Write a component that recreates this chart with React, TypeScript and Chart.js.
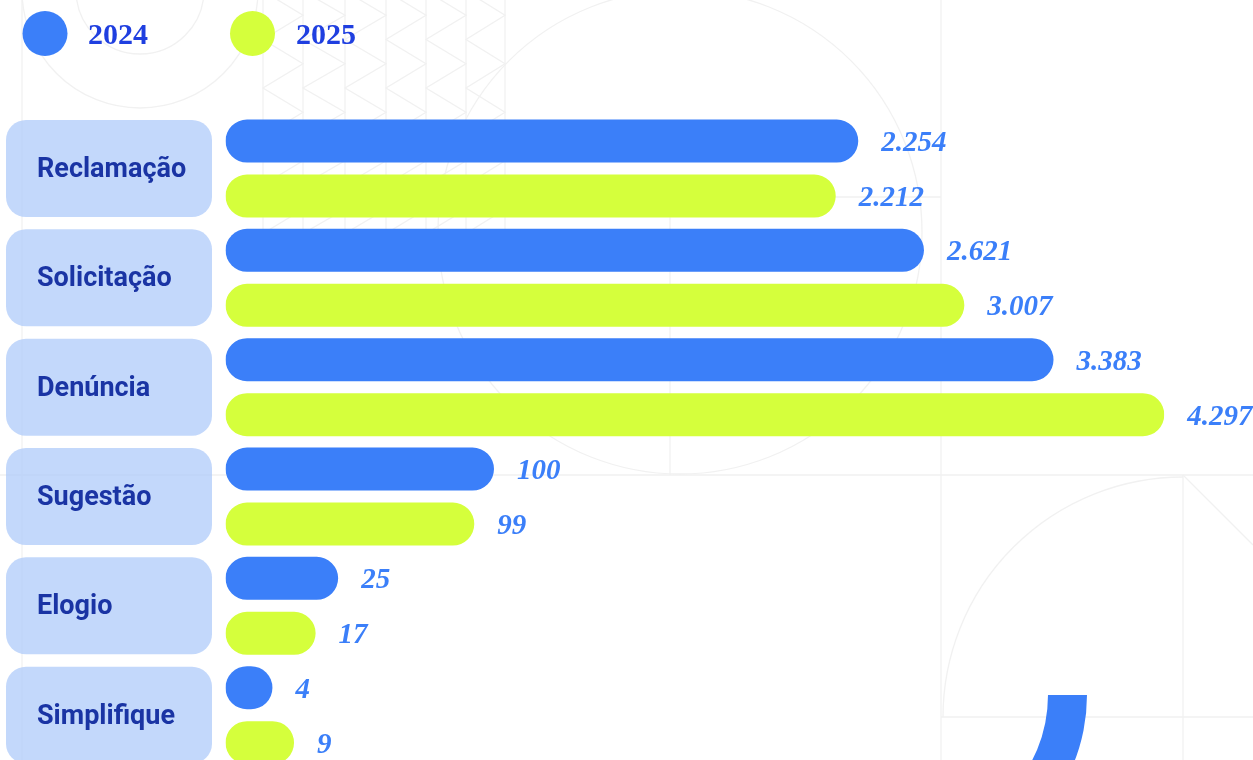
import React, { useEffect, useRef } from "react";
import { Chart, registerables } from "chart.js";

Chart.register(...registerables);

// ---- data ----
const categories = ["Reclamação", "Solicitação", "Denúncia", "Sugestão", "Elogio", "Simplifique"];
const seriesNames = ["2024", "2025"];
const values2024 = [2254, 2621, 3383, 100, 25, 4];
const values2025 = [2212, 3007, 4297, 99, 17, 9];
// bar lengths as drawn in the infographic (not proportional to the values), in % of the longest bar
const barLength2024 = [67.4, 74.4, 88.2, 28.6, 12.0, 5.0];
const barLength2025 = [65.0, 78.7, 100, 26.5, 9.6, 7.3];
const seriesColors = ["#3b7ff9", "#d5ff3c"];

const valueLabels = [values2024, values2025];

const fmt = (v: number) => String(v).replace(/\B(?=(\d{3})+(?!\d))/g, ".");

const W = 1253;
const H = 780;

function roundRect(ctx: CanvasRenderingContext2D, x: number, y: number, w: number, h: number, r: number) {
  ctx.beginPath();
  ctx.moveTo(x + r, y);
  ctx.lineTo(x + w - r, y);
  ctx.arcTo(x + w, y, x + w, y + r, r);
  ctx.lineTo(x + w, y + h - r);
  ctx.arcTo(x + w, y + h, x + w - r, y + h, r);
  ctx.lineTo(x + r, y + h);
  ctx.arcTo(x, y + h, x, y + h - r, r);
  ctx.lineTo(x, y + r);
  ctx.arcTo(x, y, x + r, y, r);
  ctx.closePath();
}

const backgroundPlugin = {
  id: "bgPattern",
  beforeDraw(chart: any) {
    const ctx: CanvasRenderingContext2D = chart.ctx;
    ctx.save();
    ctx.fillStyle = "#ffffff";
    ctx.fillRect(0, 0, chart.width, chart.height);
    ctx.strokeStyle = "#f1f1f1";
    ctx.lineWidth = 1.3;
    const line = (x1: number, y1: number, x2: number, y2: number) => {
      ctx.beginPath();
      ctx.moveTo(x1, y1);
      ctx.lineTo(x2, y2);
      ctx.stroke();
    };
    // zigzag block (top)
    const cols = [263, 303, 345, 386, 426, 466, 505];
    cols.forEach((x) => line(x, 0, x, 235));
    for (let i = 0; i < cols.length - 1; i++) {
      const xl = cols[i];
      const xr = cols[i + 1];
      ctx.beginPath();
      let y = -9;
      let right = false;
      ctx.moveTo(xl, y);
      while (y < 235) {
        y += 24.25;
        right = !right;
        ctx.lineTo(right ? xr : xl, y);
      }
      ctx.stroke();
    }
    // left structure
    line(22, 0, 22, chart.height);
    ctx.beginPath();
    ctx.arc(140, -10, 64, 0, Math.PI);
    ctx.stroke();
    ctx.beginPath();
    ctx.arc(140, -10, 118, 0, Math.PI);
    ctx.stroke();
    // middle / right grid
    line(941, 0, 941, chart.height);
    line(0, 475, chart.width, 475);
    line(670, 197, 941, 197);
    line(670, 197, 670, 475);
    ctx.beginPath();
    ctx.arc(680, 232, 242, 0, Math.PI * 2);
    ctx.stroke();
    line(941, 717, chart.width, 717);
    line(1183, 475, 1183, chart.height);
    line(1183, 475, 1253, 545);
    ctx.beginPath();
    ctx.arc(1183, 717, 240, Math.PI, Math.PI * 1.5);
    ctx.stroke();
    ctx.restore();
  },
};

const boxesPlugin = {
  id: "categoryBoxes",
  beforeDatasetsDraw(chart: any) {
    const ctx: CanvasRenderingContext2D = chart.ctx;
    const yScale = chart.scales.y;
    ctx.save();
    // decorative ring segment (bottom right)
    ctx.fillStyle = seriesColors[0];
    ctx.beginPath();
    ctx.arc(905, 695, 182, 0, Math.PI / 2);
    ctx.arc(905, 695, 143, Math.PI / 2, 0, true);
    ctx.closePath();
    ctx.fill();

    categories.forEach((cat, i) => {
      const yc = yScale.getPixelForValue(i);
      ctx.fillStyle = "rgba(172, 201, 250, 0.72)";
      roundRect(ctx, 6, yc - 48.5, 206, 97, 20);
      ctx.fill();
      ctx.fillStyle = "#1a34a4";
      ctx.font = 'bold 27px Roboto';
      ctx.textAlign = "left";
      ctx.textBaseline = "alphabetic";
      ctx.fillText(cat, 37, yc + 8.5);
    });
    ctx.restore();
  },
};

const labelsPlugin = {
  id: "valueLabels",
  afterDatasetsDraw(chart: any) {
    const ctx: CanvasRenderingContext2D = chart.ctx;
    ctx.save();
    ctx.fillStyle = seriesColors[0];
    ctx.font = 'italic bold 29px "Liberation Serif"';
    ctx.textAlign = "left";
    ctx.textBaseline = "alphabetic";
    chart.data.datasets.forEach((_: any, di: number) => {
      const meta = chart.getDatasetMeta(di);
      meta.data.forEach((bar: any, i: number) => {
        ctx.fillText(fmt(valueLabels[di][i]), bar.x + 23, bar.y + 10);
      });
    });
    ctx.restore();
  },
};

const legendPlugin = {
  id: "customLegend",
  afterDraw(chart: any) {
    const ctx: CanvasRenderingContext2D = chart.ctx;
    ctx.save();
    const items = [
      { cx: 45, tx: 88 },
      { cx: 252.5, tx: 296 },
    ];
    chart.data.datasets.forEach((ds: any, i: number) => {
      const it = items[i];
      ctx.fillStyle = ds.backgroundColor;
      ctx.beginPath();
      ctx.arc(it.cx, 33.5, 22.5, 0, Math.PI * 2);
      ctx.fill();
      ctx.fillStyle = "#1f3fe0";
      ctx.font = 'bold 30px "Liberation Serif"';
      ctx.textAlign = "left";
      ctx.textBaseline = "alphabetic";
      ctx.fillText(ds.label, it.tx, 43.5);
    });
    ctx.restore();
  },
};

export default function App() {
  const ref = useRef<HTMLCanvasElement | null>(null);

  useEffect(() => {
    document.body.style.margin = "0";
    document.body.style.overflow = "hidden";
    document.documentElement.style.overflow = "hidden";
    const canvas = ref.current;
    if (!canvas) return;
    const chart = new Chart(canvas, {
      type: "bar",
      data: {
        labels: categories,
        datasets: [
          {
            label: seriesNames[0],
            data: barLength2024,
            backgroundColor: seriesColors[0],
            borderRadius: 22,
            borderSkipped: false,
            barPercentage: 43 / 55,
            categoryPercentage: 110 / 109.33,
          },
          {
            label: seriesNames[1],
            data: barLength2025,
            backgroundColor: seriesColors[1],
            borderRadius: 22,
            borderSkipped: false,
            barPercentage: 43 / 55,
            categoryPercentage: 110 / 109.33,
          },
        ],
      },
      options: {
        indexAxis: "y",
        responsive: false,
        animation: false,
        events: [],
        layout: { padding: { left: 225.5, right: W - 225.5 - 938.8, top: 113.85, bottom: H - 113.85 - 656 } },
        scales: {
          x: { display: false, min: 0, max: 100 },
          y: { display: false },
        },
        plugins: {
          legend: { display: false },
          tooltip: { enabled: false },
        },
      },
      plugins: [backgroundPlugin, boxesPlugin, labelsPlugin, legendPlugin],
    } as any);
    return () => chart.destroy();
  }, []);

  return (
    <div style={{ width: W, height: 760, overflow: "hidden", position: "relative", background: "#fff" }}>
      <canvas ref={ref} width={W} height={H} style={{ display: "block", width: W, height: H }} />
    </div>
  );
}
